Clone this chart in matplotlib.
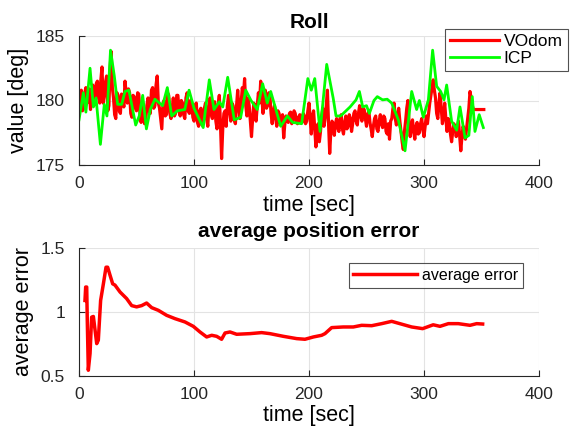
import numpy as np
import matplotlib
matplotlib.use("Agg")
from matplotlib import pyplot as plt
from matplotlib.ticker import FormatStrFormatter

plt.rcParams['font.family'] = ['Liberation Sans', 'DejaVu Sans']

# roll from visual odometry, sampled every second
vodom_t = np.arange(0, 353)
vodom_roll = [
    179.6, 180.4, 180.8, 179.2, 179.4, 180.6, 181.0, 179.8, 180.2, 180.9,
    179.3, 180.4, 181.2, 179.6, 180.0, 181.3, 181.5, 180.2, 179.8, 181.6,
    182.6, 179.8, 180.4, 181.4, 181.9, 179.2, 179.6, 182.4, 183.8, 181.0,
    180.2, 178.9, 178.6, 180.6, 180.4, 179.2, 179.0, 180.5, 180.2, 179.5,
    181.5, 180.6, 179.8, 180.9, 180.6, 179.0, 178.7, 180.4, 180.3, 179.4,
    179.2, 180.6, 180.5, 179.0, 178.3, 179.8, 179.5, 178.2, 178.4, 179.6,
    180.2, 179.2, 179.0, 180.8, 181.0, 179.4, 179.6, 181.2, 181.9, 179.8,
    179.4, 178.6, 177.8, 179.8, 180.0, 178.8, 178.9, 180.6, 180.4, 179.0,
    178.6, 179.4, 180.2, 178.8, 179.0, 180.4, 180.4, 179.2, 178.8, 180.0,
    179.8, 178.9, 178.6, 180.2, 180.6, 179.2, 179.0, 180.0, 179.8, 178.7,
    178.4, 179.6, 179.8, 178.3, 178.0, 179.2, 179.4, 178.1, 178.2, 179.4,
    179.8, 178.6, 178.0, 179.6, 180.2, 178.9, 178.6, 179.8, 179.9, 178.4,
    177.8, 179.6, 180.4, 178.2, 175.5, 177.8, 179.0, 179.2, 178.0, 179.6,
    180.4, 179.2, 178.4, 179.8, 179.6, 178.5, 178.2, 179.6, 180.8, 179.5,
    178.6, 179.8, 181.0, 180.4, 181.7, 179.6, 178.8, 180.2, 179.6, 178.4,
    177.2, 178.6, 179.8, 179.4, 178.4, 179.6, 180.6, 179.8, 181.5, 180.2,
    179.0, 180.2, 180.8, 179.4, 179.6, 180.6, 180.4, 179.0, 178.2, 179.2,
    179.6, 178.6, 178.0, 179.2, 179.0, 178.2, 178.4, 178.9, 177.1, 178.2,
    178.8, 178.5, 178.3, 179.0, 179.1, 178.2, 178.4, 179.2, 179.0, 178.4,
    178.2, 178.7, 178.9, 178.4, 178.3, 179.0, 178.8, 178.2, 178.4, 179.2,
    179.8, 178.6, 177.4, 178.8, 179.2, 177.8, 176.4, 178.0, 178.2, 176.8,
    177.6, 178.8, 179.4, 178.0, 178.6, 179.6, 180.8, 178.2, 175.9, 177.6,
    178.4, 178.2, 177.3, 178.2, 178.6, 177.9, 177.6, 178.6, 178.9, 177.8,
    177.4, 178.3, 178.8, 177.8, 178.0, 178.9, 178.6, 177.6, 178.2, 179.0,
    179.2, 178.4, 178.1, 179.0, 179.6, 178.8, 178.4, 179.4, 179.3, 178.6,
    178.0, 178.9, 179.2, 178.3, 177.8, 177.2, 178.0, 178.6, 178.8, 177.8,
    177.6, 178.4, 178.9, 178.2, 177.9, 178.8, 178.6, 177.6, 177.4, 178.2,
    177.0, 178.4, 178.6, 179.4, 179.8, 178.6, 178.1, 178.9, 179.4, 178.4,
    177.6, 176.8, 176.2, 177.6, 178.4, 179.4, 180.0, 178.2, 177.2, 178.0,
    178.5, 177.6, 177.0, 178.0, 178.3, 177.4, 177.5, 178.2, 178.6, 177.8,
    177.2, 178.0, 178.8, 178.2, 179.0, 179.8, 180.4, 181.0, 181.6, 180.8,
    180.2, 179.0, 178.6, 179.8, 180.6, 179.4, 178.2, 178.8, 179.8, 178.6,
    177.6, 178.6, 178.4, 177.4, 176.8, 177.6, 178.2, 178.0, 177.2, 177.8,
    178.4, 177.2, 176.1, 177.2, 178.0, 177.6, 177.0, 177.8, 178.6, 179.4,
    180.7, 180.2, 179.6, 179.3, 179.3, 179.3, 179.3, 179.3, 179.3, 179.3,
    179.3, 179.3, 179.3,
]

# roll from ICP
icp_t = [
    0, 3.8, 6, 9.6, 12.5, 14.8, 18.6, 22, 24.3, 27.4,
    30.7, 33.6, 37.1, 40, 43.4, 49.3, 52.4, 55.4, 58.6, 62,
    66, 72.7, 76.8, 80.6, 85.5, 92, 95.7, 100, 108, 113.3,
    117.4, 122, 125, 129.3, 135, 140.6, 145, 149.6, 155, 159.7,
    163.7, 166.7, 175.4, 181.2, 185.8, 193.6, 199, 202, 205, 209.6,
    215.4, 221, 223.5, 227.5, 235.7, 240.9, 243.8, 246.7, 250, 252.5,
    256.5, 259.4, 264, 268, 271.9, 277.7, 283.5, 289.3, 293.6, 296,
    299.4, 303.8, 307.5, 311, 314.5, 317.4, 319.7, 324, 328.4, 331.3,
    335.7, 339, 342, 344.3, 348, 351.6,
]
icp_roll = [
    178.5, 180.6, 179.1, 182.5, 179.5, 180.2, 176.6, 179.7, 178.8, 183.9,
    181.9, 179.7, 179.7, 180.7, 180.8, 178.1, 178.8, 180.4, 177.8, 179.3,
    180.1, 179.6, 181.0, 178.8, 179.2, 179.3, 180.8, 179.4, 177.9, 181.6,
    179.3, 179.9, 179.5, 181.8, 178.5, 178.7, 180.8, 180.0, 179.3, 181.3,
    179.8, 180.7, 178.0, 178.8, 178.3, 178.2, 181.7, 180.8, 181.7, 177.6,
    182.8, 180.2, 178.8, 178.8, 179.5, 180.05, 180.7, 179.5, 179.6, 179.0,
    180.0, 180.3, 180.05, 180.1, 179.8, 178.5, 176.1, 180.7, 179.3, 180.0,
    178.7, 180.05, 183.9, 181.1, 180.7, 180.05, 181.2, 178.4, 177.7, 179.5,
    177.1, 177.3, 180.3, 177.6, 178.9, 177.9,
]

# running average of the position error
err_t = [
    5.2, 5.8, 6.7, 7.2, 8.1, 9.6, 11, 12.5, 15.4, 16.8,
    18.8, 21.2, 23.5, 24.9, 27, 29.3, 31.3, 35.7, 41.4, 45.8,
    50.1, 54.5, 58.8, 63.2, 69, 76.2, 83.5, 92.2, 99.4, 105.2,
    111, 115.4, 119.7, 124, 127, 131.3, 137.1, 148.7, 158.8, 166,
    177.7, 189.3, 196.5, 203.8, 211, 213.9, 219.7, 229.8, 238.5, 245.8,
    254.5, 263.2, 271.9, 279, 289.3, 298.8, 308, 313.9, 321.2, 329.8,
    340, 345.8, 351,
]
err_avg = [
    1.09, 1.195, 1.195, 0.935, 0.545, 0.675, 0.96, 0.965, 0.753, 0.78,
    1.09, 1.22, 1.35, 1.35, 1.287, 1.22, 1.21, 1.156, 1.105, 1.05,
    1.04, 1.05, 1.07, 1.034, 1.013, 0.974, 0.948, 0.922, 0.888, 0.844,
    0.805, 0.818, 0.81, 0.787, 0.836, 0.844, 0.826, 0.831, 0.839, 0.831,
    0.81, 0.792, 0.787, 0.805, 0.818, 0.831, 0.878, 0.883, 0.883, 0.896,
    0.893, 0.909, 0.927, 0.909, 0.883, 0.87, 0.9, 0.888, 0.909, 0.909,
    0.896, 0.909, 0.906,
]

W, H = 574, 432
fig = plt.figure(figsize=(W / 100, H / 100), dpi=100)


def px_axes(left, top, right, bottom):
    return fig.add_axes([left / W, 1 - bottom / H, (right - left) / W, (bottom - top) / H])


def style(ax):
    ax.grid(True, color='#e3e3e3', linewidth=0.8)
    ax.set_axisbelow(True)
    ax.spines['top'].set_visible(False)
    ax.spines['right'].set_visible(False)
    for s in ('left', 'bottom'):
        ax.spines[s].set_color('#262626')
        ax.spines[s].set_linewidth(0.8)
    ax.tick_params(direction='in', length=4, width=0.8, labelsize=12.5,
                   colors='#262626')
    ax.tick_params(axis='x', pad=8)
    ax.tick_params(axis='y', pad=10)
    ax.set_xlim(0, 400)
    ax.set_xticks([0, 100, 200, 300, 400])
    ax.yaxis.set_major_formatter(FormatStrFormatter('%g'))


ax1 = px_axes(79, 36, 539, 165)
style(ax1)
ax1.plot(vodom_t, vodom_roll, color='#ff0000', linewidth=2.3, label='VOdom')
ax1.plot(icp_t, icp_roll, color='#00ff00', linewidth=2, label='ICP')
ax1.set_ylim(175, 185)
ax1.set_yticks([175, 180, 185])
ax1.set_title('Roll', fontsize=15, fontweight='bold', pad=6)
ax1.set_xlabel('time [sec]', fontsize=15.5, labelpad=3)
ax1.set_ylabel('value [deg]', fontsize=15.5, labelpad=5)
leg1 = ax1.legend(loc='upper right', bbox_to_anchor=(568 / W, 1 - 29 / H),
                  bbox_transform=fig.transFigure, borderaxespad=0,
                  fontsize=12.5, handlelength=2.8, fancybox=False,
                  labelspacing=0.1, borderpad=0.3, handletextpad=0.3)
leg1.get_frame().set_edgecolor('#262626')
leg1.get_frame().set_linewidth(0.8)

ax2 = px_axes(79, 248, 539, 376)
style(ax2)
ax2.plot(err_t, err_avg, color='#ff0000', linewidth=2.5, label='average error')
ax2.set_ylim(0.5, 1.5)
ax2.set_yticks([0.5, 1, 1.5])
ax2.set_title('average position error', fontsize=15, fontweight='bold', pad=8)
ax2.set_xlabel('time [sec]', fontsize=15.5, labelpad=2)
ax2.set_ylabel('average error', fontsize=15.5, labelpad=5)
leg2 = ax2.legend(loc='upper right', bbox_to_anchor=(523 / W, 1 - 263 / H),
                  bbox_transform=fig.transFigure, borderaxespad=0,
                  fontsize=11.5, handlelength=4, fancybox=False,
                  borderpad=0.3, handletextpad=0.3)
leg2.get_frame().set_edgecolor('#262626')
leg2.get_frame().set_linewidth(0.8)

fig.savefig('out.png', dpi=100)
